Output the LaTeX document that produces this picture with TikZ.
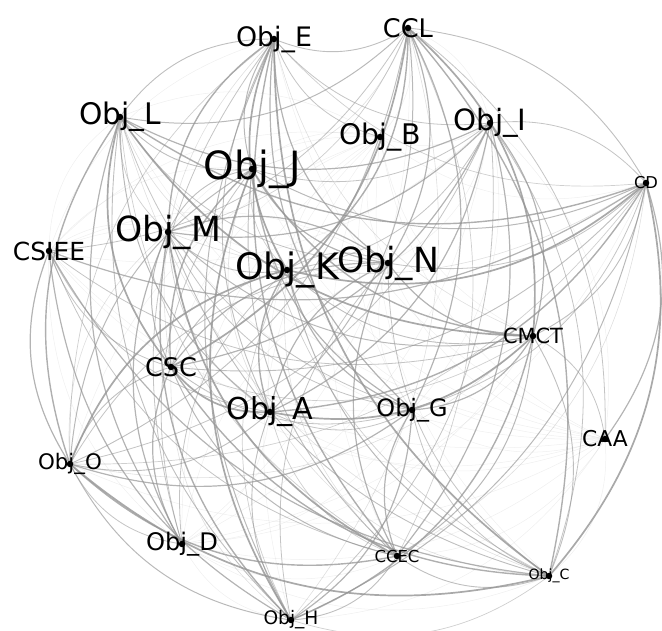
\documentclass[tikz,border=0pt]{standalone}
\usepackage{fontspec}
\setmainfont{DejaVu Sans}
\begin{document}
\begin{tikzpicture}[x=1pt,y=1pt,
  e0/.style={draw=black!42,line width=1.7pt,opacity=0.8},
  e1/.style={draw=black!42,line width=1.4pt,opacity=0.75},
  e2/.style={draw=black!42,line width=1.2pt,opacity=0.7},
  e3/.style={draw=black!42,line width=1.0pt,opacity=0.65},
  e4/.style={draw=black!42,line width=0.9pt,opacity=0.6},
  e5/.style={draw=black!42,line width=0.8pt,opacity=0.55},
  e6/.style={draw=black!42,line width=0.7pt,opacity=0.45},
  e7/.style={draw=black!42,line width=0.6pt,opacity=0.3},
  e8/.style={draw=black!42,line width=0.5pt,opacity=0.15},
  dot/.style={circle,fill=black,inner sep=0pt,minimum size=6.5pt},
  lab/.style={inner sep=0pt,text=black}]
\useasboundingbox (0,0) rectangle (662,630);
% vertex positions (clockwise order)
\coordinate (CCL)   at (408,602);
\coordinate (ObjI)  at (490,507);
\coordinate (CD)    at (646,447);
\coordinate (CMCT)  at (533,294);
\coordinate (CAA)   at (605,191);
\coordinate (ObjC)  at (549,54);
\coordinate (CCEC)  at (397,74);
\coordinate (ObjG)  at (412,220);
\coordinate (ObjH)  at (291,10);
\coordinate (ObjA)  at (270,218);
\coordinate (ObjD)  at (182,86);
\coordinate (ObjO)  at (70,166);
\coordinate (CSC)   at (171,263);
\coordinate (CSIEE) at (49,379);
\coordinate (ObjK)  at (287,360);
\coordinate (ObjM)  at (168,398);
\coordinate (ObjN)  at (388,367);
\coordinate (ObjJ)  at (252,461);
\coordinate (ObjL)  at (120,513);
\coordinate (ObjB)  at (380,493);
\coordinate (ObjE)  at (274,591);
% connectors
\def\nlist{CCL,ObjI,CD,CMCT,CAA,ObjC,CCEC,ObjG,ObjH,ObjA,ObjD,ObjO,CSC,CSIEE,ObjK,ObjM,ObjN,ObjJ,ObjL,ObjB,ObjE}
\foreach \a [count=\i] in \nlist {
  \foreach \b [count=\j] in \nlist {
    \ifnum\j>\i
      \pgfmathtruncatemacro\k{mod(\i*7+\j*13+\i*\j,9)}
      \draw[e\k] (\a) to[bend left=27] (\b);
    \fi
  }
}
% vertices
\foreach \a in \nlist { \node[dot] (d-\a) at (\a) {}; }
\node[lab,font=\fontsize{25.6}{26}\selectfont] (l-CCL) at (CCL) {CCL};
\node[lab,font=\fontsize{29.3}{30}\selectfont] (l-ObjI) at (ObjI) {Obj\_I};
\node[lab,font=\fontsize{16.3}{17}\selectfont] (l-CD) at (CD) {CD};
\node[lab,font=\fontsize{20.9}{21}\selectfont] (l-CMCT) at (CMCT) {CMCT};
\node[lab,font=\fontsize{21.8}{22}\selectfont] (l-CAA) at (CAA) {CAA};
\node[lab,font=\fontsize{14.1}{15}\selectfont] (l-ObjC) at (ObjC) {Obj\_C};
\node[lab,font=\fontsize{16.5}{17}\selectfont] (l-CCEC) at (CCEC) {CCEC};
\node[lab,font=\fontsize{23.9}{24}\selectfont] (l-ObjG) at (ObjG) {Obj\_G};
\node[lab,font=\fontsize{18.6}{19}\selectfont] (l-ObjH) at (ObjH) {Obj\_H};
\node[lab,font=\fontsize{30.2}{31}\selectfont] (l-ObjA) at (ObjA) {Obj\_A};
\node[lab,font=\fontsize{24.2}{25}\selectfont] (l-ObjD) at (ObjD) {Obj\_D};
\node[lab,font=\fontsize{21.4}{22}\selectfont] (l-ObjO) at (ObjO) {Obj\_O};
\node[lab,font=\fontsize{25.6}{26}\selectfont] (l-CSC) at (CSC) {CSC};
\node[lab,font=\fontsize{24.9}{25}\selectfont] (l-CSIEE) at (CSIEE) {CSIEE};
\node[lab,font=\fontsize{36.4}{37}\selectfont] (l-ObjK) at (ObjK) {Obj\_K};
\node[lab,font=\fontsize{34.6}{35}\selectfont] (l-ObjM) at (ObjM) {Obj\_M};
\node[lab,font=\fontsize{34.6}{35}\selectfont] (l-ObjN) at (ObjN) {Obj\_N};
\node[lab,font=\fontsize{38.9}{39}\selectfont] (l-ObjJ) at (ObjJ) {Obj\_J};
\node[lab,font=\fontsize{29.7}{30}\selectfont] (l-ObjL) at (ObjL) {Obj\_L};
\node[lab,font=\fontsize{28.4}{29}\selectfont] (l-ObjB) at (ObjB) {Obj\_B};
\node[lab,font=\fontsize{26.8}{27}\selectfont] (l-ObjE) at (ObjE) {Obj\_E};
\end{tikzpicture}
\end{document}
